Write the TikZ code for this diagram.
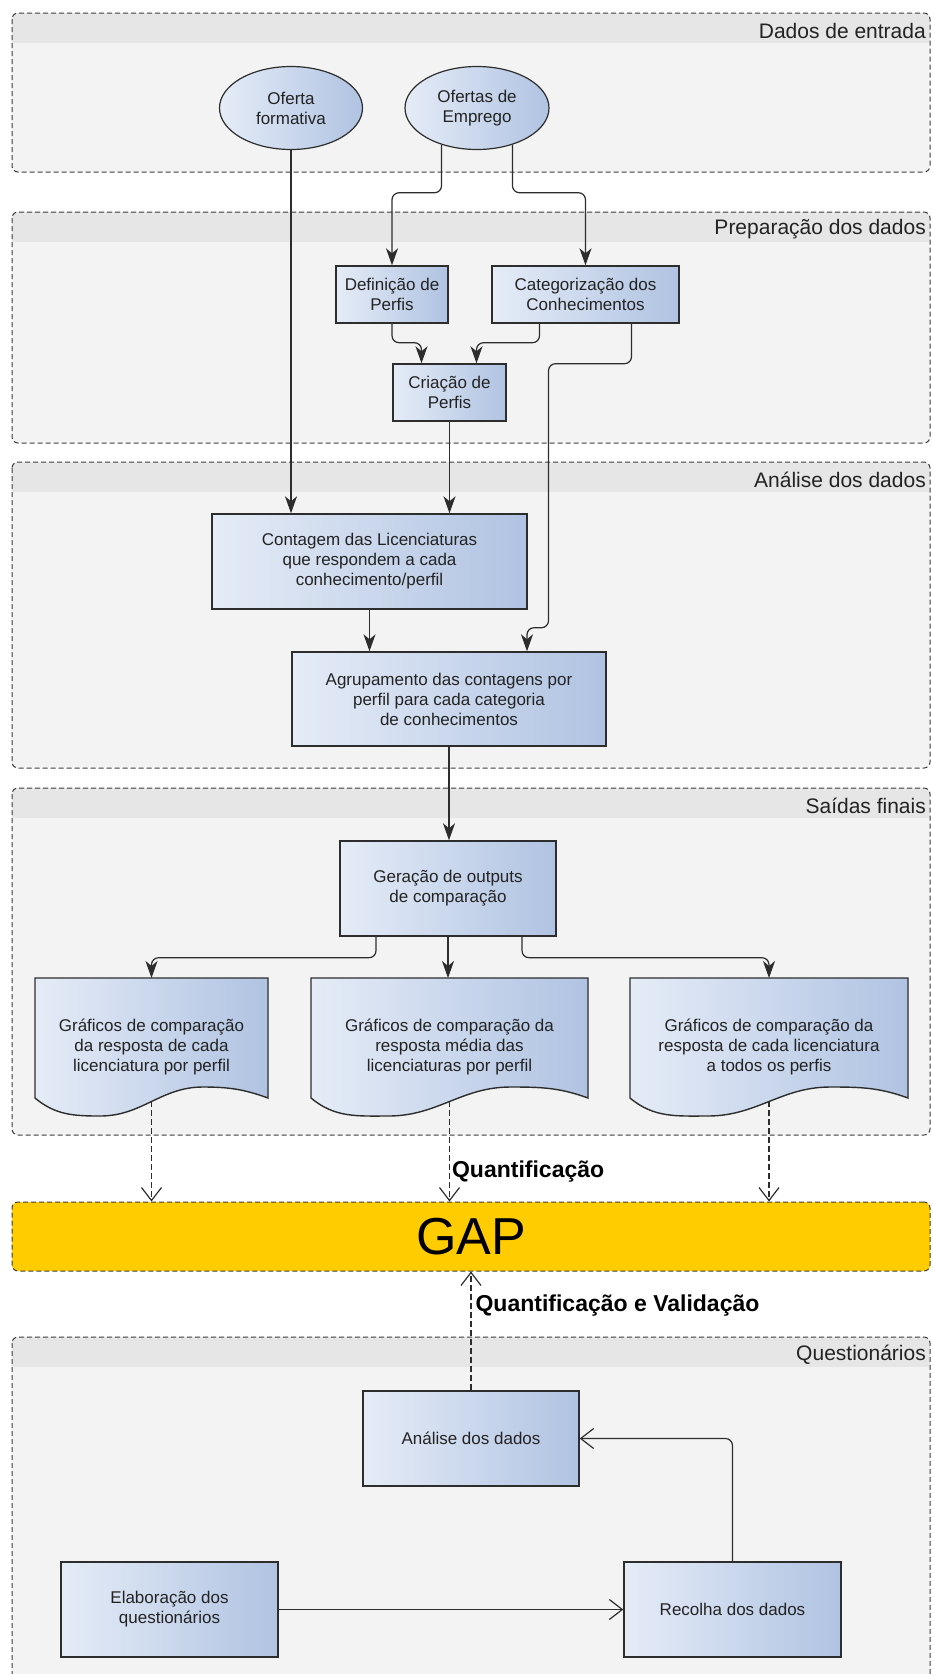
\documentclass[tikz,border=0pt]{standalone}
\usepackage{fontspec}
\setmainfont{Liberation Sans}
\usepackage{tikz}
\usepackage{xcolor}
\usetikzlibrary{shapes, positioning, arrows.meta, calc}

\definecolor{boxL}{RGB}{229,236,247}
\definecolor{boxR}{RGB}{176,195,226}
\definecolor{boxline}{RGB}{45,45,45}
\definecolor{lanebg}{RGB}{243,243,243}
\definecolor{lanehead}{RGB}{230,230,230}
\definecolor{laneline}{RGB}{60,60,60}
\definecolor{gapfill}{RGB}{255,204,0}
\definecolor{txt}{RGB}{35,35,35}

\pgfdeclarelayer{bg}
\pgfsetlayers{bg,main}

\begin{document}
\begin{tikzpicture}[x=1pt, y=1pt,
        proc/.style={draw=boxline, line width=1.4pt, left color=boxL, right color=boxR, text=txt, align=center, inner sep=0pt, font=\fontsize{17pt}{20pt}\selectfont},
        src/.style={proc, ellipse, line width=1.2pt},
        doc/.style={align=center, inner sep=0pt, outer sep=0pt, text=txt, font=\fontsize{17pt}{20pt}\selectfont},
        lane/.style={anchor=east, inner sep=0pt, text=txt, font=\fontsize{21pt}{24pt}\selectfont},
        lbl/.style={text=black, inner sep=2pt, font=\bfseries\fontsize{23pt}{26pt}\selectfont},
        arr/.style={-{Stealth[length=17pt, width=12pt, inset=5pt]}, line width=1.2pt, draw=boxline},
        oarr/.style={-{Straight Barb[length=13pt, width=20pt]}, line width=1.2pt, draw=boxline},
        darr/.style={oarr, dash pattern=on 6pt off 3pt}]
        \useasboundingbox (0,0) rectangle (933,-1674);

        % lanes
        \begin{pgfonlayer}{bg}
        \foreach \ytop/\ybot/\ttl [count=\i] in {13/172/Dados de entrada, 212/443/Preparação dos dados, 462/768/Análise dos dados, 788/1135/Saídas finais, 1337/1700/Questionários}
        {
            \begin{scope}
                \clip[rounded corners=6pt] (12,-\ytop) rectangle (930,-\ybot);
                \fill[lanebg] (12,-\ytop) rectangle (930,-\ybot);
                \fill[lanehead] (12,-\ytop) rectangle (930,-\ytop-30);
            \end{scope}
            \draw[laneline, line width=1pt, dash pattern=on 5pt off 3pt, rounded corners=6pt] (12,-\ytop) rectangle (930,-\ybot);
            \node[lane] (lane\i) at (926,-\ytop-17.5) {\ttl};
        }
        \end{pgfonlayer}

        \node[src, minimum width=143pt, minimum height=83pt] (formativa) at (291,-108) {Oferta\\formativa};
        \node[src, minimum width=144pt, minimum height=83pt] (emprego) at (477,-108) {Ofertas de\\Emprego};

        \node[proc, minimum width=112pt, minimum height=57pt] (definicao) at (392,-294.5) {Definição de\\Perfis};
        \node[proc, minimum width=187pt, minimum height=57pt] (categorizacao) at (585.5,-294.5) {Categorização dos\\Conhecimentos};
        \node[proc, minimum width=113pt, minimum height=57pt] (criacao) at (449.5,-392.5) {Criação de\\Perfis};

        \node[proc, minimum width=315pt, minimum height=95pt] (contagem) at (369.5,-561.5) {Contagem das Licenciaturas\\que respondem a cada\\conhecimento/perfil};
        \node[proc, minimum width=314pt, minimum height=94pt] (agrupamento) at (449,-699) {Agrupamento das contagens por\\perfil para cada categoria\\de conhecimentos};

        \node[proc, minimum width=216pt, minimum height=95pt] (geracao) at (448,-888.5) {Geração de outputs\\de comparação};
        \node[doc, minimum width=233pt, minimum height=138pt] (doc1) at (151.5,-1047) {Gráficos de comparação\\da resposta de cada\\licenciatura por perfil};
        \node[doc, minimum width=277pt, minimum height=138pt] (doc2) at (449.5,-1047) {Gráficos de comparação da\\resposta média das\\licenciaturas por perfil};
        \node[doc, minimum width=278pt, minimum height=138pt] (doc3) at (769,-1047) {Gráficos de comparação da\\resposta de cada licenciatura\\a todos os perfis};

        \begin{pgfonlayer}{bg}
        \foreach \d in {doc1, doc2, doc3}
            \draw[draw=boxline, line width=1.4pt, left color=boxL, right color=boxR] (\d.north west) -- (\d.north east) -- ([yshift=18pt]\d.south east)
                to[out=160, in=0] ($(\d.south west)!0.72!(\d.south east)+(0,29)$)
                to[out=180, in=0] ($(\d.south west)!0.28!(\d.south east)$)
                to[out=180, in=-40] ([yshift=18pt]\d.south west) -- cycle;
        \end{pgfonlayer}

        \node[draw=laneline, line width=1pt, dash pattern=on 5pt off 3pt, rounded corners=6pt, fill=gapfill, minimum width=918pt, minimum height=69pt, text=black, font=\fontsize{52pt}{52pt}\selectfont] (gap) at (471,-1236.5) {GAP};

        \node[proc, minimum width=216pt, minimum height=95pt] (qanalise) at (471,-1438.5) {Análise dos dados};
        \node[proc, minimum width=217pt, minimum height=95pt] (elaboracao) at (169.5,-1609.5) {Elaboração dos\\questionários};
        \node[proc, minimum width=217pt, minimum height=95pt] (recolha) at (732.5,-1609.5) {Recolha dos dados};

        \draw[arr] (formativa.south) -- (formativa.south |- contagem.north);
        \draw[arr, rounded corners=7pt] (emprego.-134) -- ++(0,-48) -| (definicao.north);
        \draw[arr, rounded corners=7pt] (emprego.-46) -- ++(0,-48) -| (categorizacao.north);
        \draw[arr, rounded corners=7pt] (definicao.south) -- ++(0,-19) -| ([xshift=-28pt]criacao.north);
        \draw[arr, rounded corners=7pt] ([xshift=-46pt]categorizacao.south) -- ++(0,-19) -| ([xshift=27pt]criacao.north);
        \draw[arr, rounded corners=7pt] ([xshift=46pt]categorizacao.south) -- ++(0,-40) -- ++(-83,0) -- ++(0,-264) -| ([xshift=78pt]agrupamento.north);
        \draw[arr] (criacao.south) -- (criacao.south |- contagem.north);
        \draw[arr] (contagem.south) -- (contagem.south |- agrupamento.north);
        \draw[arr] (agrupamento.south) -- (agrupamento.south |- geracao.north);

        \draw[arr, rounded corners=7pt] ([xshift=-72pt]geracao.south) -- ++(0,-21) -| (doc1.north);
        \draw[arr] (geracao.south) -- (geracao.south |- doc2.north);
        \draw[arr, rounded corners=7pt] ([xshift=74pt]geracao.south) -- ++(0,-21) -| (doc3.north);

        \draw[darr] ([yshift=15pt]doc1.south) -- (doc1.south |- gap.north);
        \draw[darr] ([yshift=15pt]doc2.south) -- (doc2.south |- gap.north) node[lbl, pos=0.7, right] (quantlbl) {Quantificação};
        \draw[darr] ([yshift=15pt]doc3.south) -- (doc3.south |- gap.north);
        \draw[darr] (qanalise.north) -- (qanalise.north |- gap.south) node[lbl, pos=0.71, right, xshift=2pt] (validlbl) {Quantificação e Validação};

        \draw[oarr] (elaboracao) -- (recolha);
        \draw[oarr, rounded corners=7pt] (recolha.north) |- (qanalise.east);
\end{tikzpicture}
\end{document}
